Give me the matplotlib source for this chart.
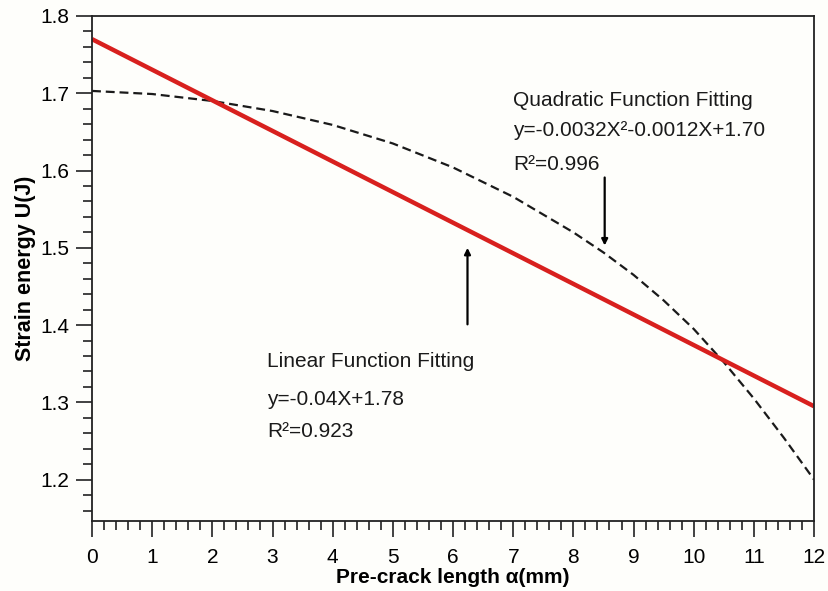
"""Strain energy vs pre-crack length with linear and quadratic fits."""

import matplotlib

matplotlib.use("Agg")
import matplotlib.pyplot as plt
from matplotlib.ticker import MultipleLocator

plt.rcParams["font.family"] = ["Liberation Sans", "DejaVu Sans"]

# values
crack_length = [0, 1, 2, 3, 4, 5, 6, 7, 8, 8.5, 9, 9.5, 10, 10.5, 11, 11.5, 12]
quadratic_fit = [1.703, 1.699, 1.690, 1.677, 1.659, 1.635, 1.604, 1.566, 1.520,
                 1.494, 1.465, 1.432, 1.395, 1.352, 1.305, 1.254, 1.200]
linear_x = [0, 12]
linear_fit = [1.770, 1.295]

BG = "#fefefb"

fig = plt.figure(figsize=(8.29, 5.91), dpi=100, facecolor=BG)
ax = fig.add_axes([0.111, 0.119, 0.871, 0.854], facecolor=BG)

ax.plot(crack_length, quadratic_fit, color="#1a1a1a", linestyle=(0, (4, 2.2)),
        linewidth=1.6)
ax.plot(linear_x, linear_fit, color="#d8201e", linewidth=3.2, solid_capstyle="butt")

ax.set_xlim(0, 12)
ax.set_ylim(1.147, 1.8)
ax.xaxis.set_major_locator(MultipleLocator(1))
ax.xaxis.set_minor_locator(MultipleLocator(0.2))
ax.yaxis.set_major_locator(MultipleLocator(0.1))
ax.yaxis.set_minor_locator(MultipleLocator(0.02))
ax.tick_params(which="both", direction="out", width=1.2, color="#222222",
               top=False, right=False)
ax.tick_params(which="major", length=11.5, labelsize=15, pad=5)
ax.tick_params(which="minor", length=6.5)
ax.tick_params(axis="x", which="major", pad=8)
ax.set_yticks([1.2, 1.3, 1.4, 1.5, 1.6, 1.7, 1.8])
ax.set_yticklabels(["1.2", "1.3", "1.4", "1.5", "1.6", "1.7", "1.8"])
for spine in ax.spines.values():
    spine.set_linewidth(1.3)
    spine.set_color("#222222")

ax.set_xlabel("Pre-crack length α(mm)", fontsize=15, fontweight="bold", labelpad=1)
ax.set_ylabel("Strain energy U(J)", fontsize=15.5, fontweight="bold", labelpad=3)

text_kw = dict(fontsize=15, color="#1a1a1a", va="center", ha="left")
ax.text(7.0, 1.691, "Quadratic Function Fitting", **text_kw)
ax.text(7.0, 1.652, "y=-0.0032X²-0.0012X+1.70", **text_kw)
ax.text(7.0, 1.608, "R²=0.996", **text_kw)
ax.text(2.91, 1.353, "Linear Function Fitting", **text_kw)
ax.text(2.91, 1.304, "y=-0.04X+1.78", **text_kw)
ax.text(2.91, 1.263, "R²=0.923", **text_kw)

arrow_kw = dict(arrowstyle="-|>", color="black", lw=1.6, mutation_scale=9,
                shrinkA=0, shrinkB=0)
ax.annotate("", xy=(8.52, 1.503), xytext=(8.52, 1.591), arrowprops=arrow_kw)
ax.annotate("", xy=(6.24, 1.500), xytext=(6.24, 1.401), arrowprops=arrow_kw)

fig.savefig("out.png", dpi=100, facecolor=BG)
